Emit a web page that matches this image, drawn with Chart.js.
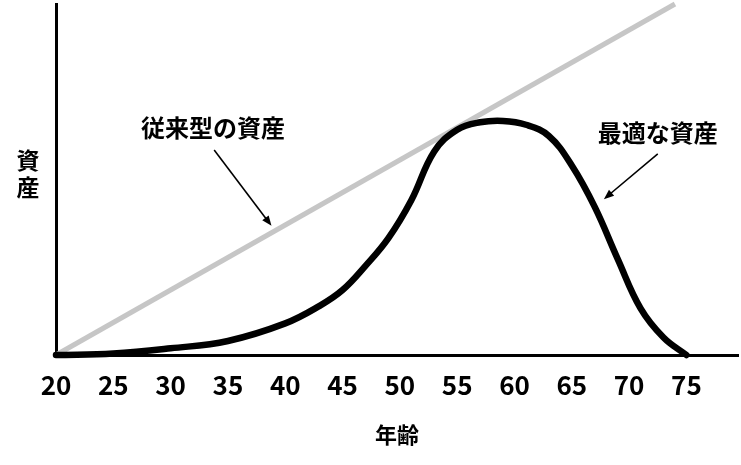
<!DOCTYPE html>
<html>
<head>
<meta charset="utf-8">
<script src="https://cdn.jsdelivr.net/npm/chart.js@4/dist/chart.umd.min.js"></script>
<style>
  html, body { margin: 0; padding: 0; background: #fff; }
  #wrap { width: 741px; height: 465px; position: relative; }
</style>
</head>
<body>
<div id="wrap"><canvas id="assetChart"></canvas></div>
<script>
// ages (x) and asset level (y, 0-100)
const optimalAges   = [20, 25, 30, 35, 40, 43, 45, 47, 49, 51, 53, 55, 57, 59, 61, 63, 65, 67, 69, 71, 73, 75];
const optimalAssets = [0, 0.4, 1.9, 4.0, 9.0, 14.0, 18.5, 25.4, 33.3, 44.1, 58.0, 64.2, 66.3, 66.7, 65.6, 62.4, 54.0, 42.2, 27.4, 13.3, 5.0, 0];
const traditionalAges   = [20, 74];
const traditionalAssets = [0, 100];
const tickLabels = [20, 25, 30, 35, 40, 45, 50, 55, 60, 65, 70, 75];

const seriesNames = ['最適な資産', '従来型の資産'];
const xTitle = '年齢';
const yTitle = ['資', '産'];

const toPoints = (xs, ys) => xs.map((x, i) => ({ x: x, y: ys[i] }));

const JP = '"Noto Sans CJK JP", "Noto Sans", sans-serif';

// annotation text + arrows, placed in data units
const notes = [
  { text: seriesNames[1], at: [33.7, 64.7], from: [33.8, 58.4], to: [38.8, 36.8] },
  { text: seriesNames[0], at: [72.5, 63.2], from: [72.5, 57.3], to: [67.8, 44.4] }
];

const annotate = {
  id: 'annotate',
  afterDatasetsDraw(chart) {
    const { ctx, scales: { x, y }, chartArea } = chart;
    ctx.save();
    ctx.fillStyle = '#000';
    ctx.strokeStyle = '#000';
    ctx.textAlign = 'center';
    ctx.textBaseline = 'middle';
    ctx.font = 'bold 24px ' + JP;
    notes.forEach(n => {
      ctx.fillText(n.text, x.getPixelForValue(n.at[0]), y.getPixelForValue(n.at[1]));
      const x1 = x.getPixelForValue(n.from[0]), y1 = y.getPixelForValue(n.from[1]);
      const x2 = x.getPixelForValue(n.to[0]),   y2 = y.getPixelForValue(n.to[1]);
      const ang = Math.atan2(y2 - y1, x2 - x1);
      const len = 10, hw = 4;
      ctx.lineWidth = 1.6;
      ctx.beginPath();
      ctx.moveTo(x1, y1);
      ctx.lineTo(x2 - Math.cos(ang) * len * 0.8, y2 - Math.sin(ang) * len * 0.8);
      ctx.stroke();
      ctx.beginPath();
      ctx.moveTo(x2, y2);
      ctx.lineTo(x2 - Math.cos(ang) * len - Math.sin(ang) * hw, y2 - Math.sin(ang) * len + Math.cos(ang) * hw);
      ctx.lineTo(x2 - Math.cos(ang) * len + Math.sin(ang) * hw, y2 - Math.sin(ang) * len - Math.cos(ang) * hw);
      ctx.closePath();
      ctx.fill();
    });
    // upright y-axis title, one character per line
    ctx.font = 'bold 23px ' + JP;
    const cx = chartArea.left / 2;
    yTitle.forEach((ch, i) => ctx.fillText(ch, cx, 160 + i * 27));
    ctx.restore();
  }
};

const ctx = document.getElementById('assetChart').getContext('2d');
new Chart(ctx, {
  type: 'line',
  data: {
    datasets: [
      {
        label: seriesNames[0],
        data: toPoints(optimalAges, optimalAssets),
        borderColor: '#000',
        borderWidth: 6.5,
        pointRadius: 0,
        tension: 0.4,
        borderCapStyle: 'round',
        clip: false
      },
      {
        label: seriesNames[1],
        data: toPoints(traditionalAges, traditionalAssets),
        borderColor: '#c6c6c6',
        borderWidth: 5,
        pointRadius: 0,
        clip: false
      }
    ]
  },
  options: {
    responsive: true,
    maintainAspectRatio: false,
    animation: false,
    layout: { padding: { top: 4, right: 3, left: 0, bottom: 0 } },
    plugins: { legend: { display: false }, tooltip: { enabled: false } },
    scales: {
      x: {
        type: 'linear',
        min: 20,
        max: 79.5,
        grid: { display: false, drawTicks: false },
        border: { display: true, color: '#000', width: 3 },
        afterBuildTicks: s => { s.ticks = tickLabels.map(v => ({ value: v })); },
        ticks: {
          color: '#000',
          padding: 15,
          maxRotation: 0,
          autoSkip: false,
          font: { family: JP, size: 26, weight: 'bold' }
        },
        title: {
          display: true,
          text: xTitle,
          color: '#000',
          padding: { top: 0, bottom: 17 },
          font: { family: JP, size: 22, weight: 'bold' }
        },
        afterFit: s => { s.height = 110; }
      },
      y: {
        min: 0,
        max: 100,
        grid: { display: false, drawTicks: false },
        border: { display: true, color: '#000', width: 3 },
        ticks: { display: false },
        afterFit: s => { s.width = 56; }
      }
    }
  },
  plugins: [annotate]
});
</script>
</body>
</html>
